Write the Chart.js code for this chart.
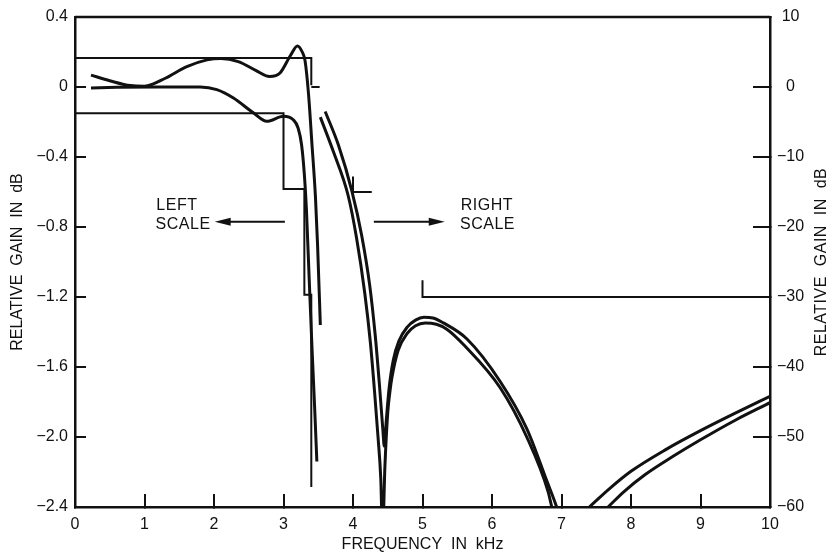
<!DOCTYPE html>
<html><head><meta charset="utf-8">
<script src="https://cdn.jsdelivr.net/npm/chart.js@4/dist/chart.umd.min.js"></script>
<style>html,body{margin:0;padding:0;background:#fff}#wrap{width:832px;height:553px}</style>
</head><body><div id="wrap"><canvas id="c" width="832" height="553"></canvas></div>
<script>
// ---------- tick labels ----------
const freqTickLabels = ['0','1','2','3','4','5','6','7','8','9','10'];
const leftTickLabels = ['\u22122.4','\u22122.0','\u22121.6','\u22121.2','\u22120.8','\u22120.4','0','0.4'];
const rightTickLabels = ['\u221260','\u221250','\u221240','\u221230','\u221220','\u221210','0','10'];

// ---------- passband curves (left scale, dB) ----------
const passAFreq = [0.23,0.5,0.8,1.0,1.3,1.6,1.9,2.1,2.35,2.6,2.8,2.95,3.1,3.2,3.27,3.31,3.36,3.41,3.46,3.49,3.53];
const passAGain = [0.068,0.036,0.008,0.005,0.05,0.115,0.155,0.163,0.145,0.095,0.06,0.08,0.18,0.235,0.2,0.15,-0.04,-0.33,-0.63,-0.9,-1.36];
const passBFreq = [0.23,0.6,1.2,1.8,2.04,2.28,2.57,2.76,3.0,3.14,3.21,3.26,3.30,3.33,3.37,3.41,3.45,3.48];
const passBGain = [-0.006,-0.002,0,0,-0.015,-0.063,-0.149,-0.196,-0.167,-0.187,-0.234,-0.33,-0.5,-0.7,-1.1,-1.49,-1.85,-2.14];

// ---------- stopband curves (right scale, dB) ----------
// lower curve of the pair
const stop1aFreq = [3.53,3.72,3.93,4.05,4.17,4.25,4.31,4.36,4.40,4.425,4.46,4.5,4.53,4.56,4.65,4.78,4.9,5.04,5.2,5.35,5.6,6.12,6.5,6.81,6.86,6.89];
const stop1aGain = [-4.3,-9.3,-15.5,-21.5,-29.5,-36.5,-43.5,-50,-56,-64,-54,-46.5,-43.6,-41.5,-37.6,-35.2,-34.1,-33.7,-33.9,-34.6,-36.9,-43.0,-50.0,-57.9,-60,-61];
const stop1bFreq = [7.67,7.9,8.2,8.6,9.0,9.5,10];
const stop1bGain = [-60,-57.8,-55.4,-52.8,-50.4,-47.6,-45.1];
// upper curve of the pair
const stop2aFreq = [3.60,3.79,3.985,4.125,4.24,4.32,4.38,4.43,4.45,4.48,4.52,4.58,4.66,4.78,4.9,5.02,5.15,5.3,5.64,6.12,6.5,6.79,6.93,6.96];
const stop2aGain = [-3.5,-8.3,-14.9,-21.2,-28.3,-35.5,-42.5,-49,-51.3,-47.5,-43,-39,-36.3,-34.3,-33.3,-32.9,-33.0,-33.7,-36.0,-42.1,-48.8,-56.3,-60,-61];
const stop2bFreq = [7.4,7.7,8.0,8.5,9.0,9.5,10];
const stop2bGain = [-60,-57.3,-54.9,-51.8,-49.1,-46.6,-44.2];

// ---------- specification masks ----------
const maskUpperFreq = [0,3.40,3.40];
const maskUpperGain = [0.166,0.166,0.01];
const maskLowerFreq = [0,3.0,3.0,3.3,3.3,3.4,3.4];
const maskLowerGain = [-0.15,-0.15,-0.583,-0.583,-1.187,-1.187,-2.286];
const maskStop0Freq = [3.40,3.52];
const maskStop0Gain = [0,0];
const maskStop15Freq = [4.0,4.0,4.27];
const maskStop15Gain = [-12.8,-15,-15];
const maskStop30Freq = [5.0,5.0,10];
const maskStop30Gain = [-27.6,-30,-30];

const INK = '#111';
const FONT = '"Liberation Sans", Arial, Helvetica, sans-serif';

function pts(xs, ys){ return xs.map((x,i)=>({x:x, y:ys[i]})); }
function curve(xs, ys, axis){
  return {data: pts(xs,ys), yAxisID: axis, borderColor: INK, borderWidth: 3,
    pointRadius: 0, cubicInterpolationMode: 'monotone', clip: 0, fill:false};
}
function mask(xs, ys, axis){
  return {data: pts(xs,ys), yAxisID: axis, borderColor: INK, borderWidth: 2,
    pointRadius: 0, tension: 0, clip: 0, fill:false, borderCapStyle:'butt'};
}

const annot = {
  id: 'annot',
  afterDraw(chart){
    const ctx = chart.ctx, a = chart.chartArea;
    const x = chart.scales.x, yL = chart.scales.yL;
    ctx.save();
    // top frame line
    ctx.strokeStyle = INK; ctx.lineWidth = 2.5;
    ctx.beginPath(); ctx.moveTo(a.left, a.top); ctx.lineTo(a.right, a.top); ctx.stroke();
    // labels
    ctx.fillStyle = INK;
    ctx.font = '16px ' + FONT;
    try { ctx.letterSpacing = '0.5px'; } catch(e) {}
    ctx.textBaseline = 'middle'; ctx.textAlign = 'left';
    ctx.fillText('LEFT', x.getPixelForValue(1.17), yL.getPixelForValue(-0.68));
    ctx.fillText('SCALE', x.getPixelForValue(1.16), yL.getPixelForValue(-0.785));
    ctx.fillText('RIGHT', x.getPixelForValue(5.55), yL.getPixelForValue(-0.68));
    ctx.fillText('SCALE', x.getPixelForValue(5.54), yL.getPixelForValue(-0.785));
    // arrows
    const ay = yL.getPixelForValue(-0.77);
    function arrow(f0, f1){
      const x0 = x.getPixelForValue(f0), x1 = x.getPixelForValue(f1);
      const dir = Math.sign(x1 - x0);
      ctx.lineWidth = 2;
      ctx.beginPath(); ctx.moveTo(x0, ay); ctx.lineTo(x1 - dir*10, ay); ctx.stroke();
      ctx.beginPath(); ctx.moveTo(x1, ay); ctx.lineTo(x1 - dir*16, ay - 4); ctx.lineTo(x1 - dir*16, ay + 4); ctx.closePath(); ctx.fill();
    }
    arrow(3.02, 2.01);
    arrow(4.3, 5.32);
    // right axis title (reads bottom to top)
    ctx.save();
    ctx.translate(822, (a.top + a.bottom)/2);
    ctx.rotate(-Math.PI/2);
    ctx.textAlign = 'center'; ctx.textBaseline = 'middle';
    ctx.font = '16px ' + FONT;
    ctx.fillText('RELATIVE  GAIN  IN  dB', 0, 0);
    ctx.restore();
    ctx.restore();
  }
};

new Chart(document.getElementById('c'), {
  type: 'line',
  data: { datasets: [
    curve(passAFreq, passAGain, 'yL'),
    curve(passBFreq, passBGain, 'yL'),
    curve(stop1aFreq, stop1aGain, 'yR'),
    curve(stop2aFreq, stop2aGain, 'yR'),
    curve(stop1bFreq, stop1bGain, 'yR'),
    curve(stop2bFreq, stop2bGain, 'yR'),
    mask(maskUpperFreq, maskUpperGain, 'yL'),
    mask(maskLowerFreq, maskLowerGain, 'yL'),
    mask(maskStop0Freq, maskStop0Gain, 'yR'),
    mask(maskStop15Freq, maskStop15Gain, 'yR'),
    mask(maskStop30Freq, maskStop30Gain, 'yR')
  ]},
  options: {
    responsive: false, animation: false, devicePixelRatio: 1,
    layout: { padding: { top: 17, left: 0, right: 0, bottom: 0 } },
    plugins: { legend: {display:false}, tooltip: {enabled:false}, title:{display:false} },
    scales: {
      x: {
        type: 'linear', position: 'bottom', min: 0, max: 10,
        ticks: { stepSize: 1, color: INK, font: {family: FONT, size: 16}, padding: 21,
                 callback: (v) => freqTickLabels[Math.round(v)] },
        grid: { display: true, drawOnChartArea: false, drawTicks: true, tickLength: -13, color: INK, lineWidth: 2 },
        border: { display: true, color: INK, width: 2.5 },
        title: { display: true, text: 'FREQUENCY  IN  kHz', color: INK,
                 font: {family: FONT, size: 16, lineHeight: 1}, padding: {top: 0, bottom: 0} },
        afterFit: (s) => { s.height = 46; s.paddingLeft = 0; s.paddingRight = 0; }
      },
      yL: {
        type: 'linear', position: 'left', min: -2.4, max: 0.4,
        ticks: { stepSize: 0.4, color: INK, font: {family: FONT, size: 16}, padding: 18,
                 callback: (v) => leftTickLabels[Math.round((v + 2.4) / 0.4)] },
        grid: { display: true, drawOnChartArea: false, drawTicks: true, tickLength: -11, color: INK, lineWidth: 2 },
        border: { display: true, color: INK, width: 2.5 },
        title: { display: true, text: 'RELATIVE  GAIN  IN  dB', color: INK,
                 font: {family: FONT, size: 16, lineHeight: 1}, padding: {top: 10, bottom: 0} },
        afterFit: (s) => { s.width = 75; s.paddingTop = 0; s.paddingBottom = 0; }
      },
      yR: {
        type: 'linear', position: 'right', min: -60, max: 10,
        ticks: { stepSize: 10, color: INK, font: {family: FONT, size: 16}, padding: 24, crossAlign: 'center',
                 callback: (v) => rightTickLabels[Math.round((v + 60) / 10)] },
        grid: { display: true, drawOnChartArea: false, drawTicks: true, tickLength: -17, color: INK, lineWidth: 2 },
        border: { display: true, color: INK, width: 2.5 },
        title: { display: false },
        afterFit: (s) => { s.width = 62; s.paddingTop = 0; s.paddingBottom = 0; }
      }
    }
  },
  plugins: [annot]
});
</script>
</body></html>
